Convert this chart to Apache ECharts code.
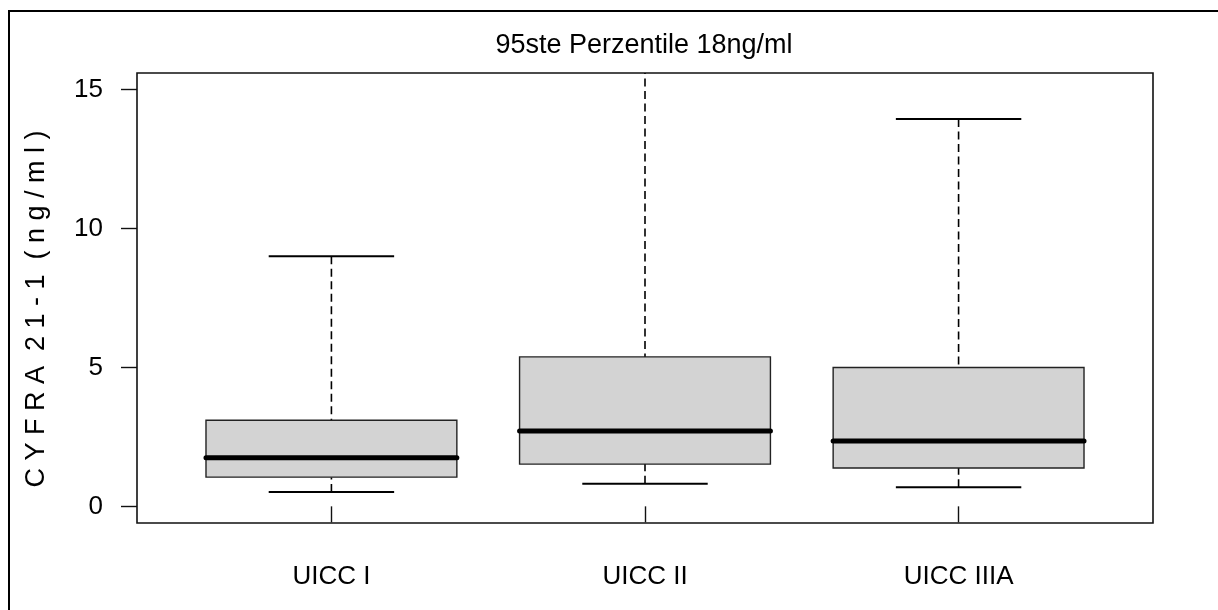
<!DOCTYPE html>
<html>
<head>
<meta charset="utf-8">
<title>CYFRA 21-1 nach UICC-Stadium</title>
<script src="https://cdn.jsdelivr.net/npm/echarts@6/dist/echarts.min.js"></script>
<style>
  html, body { margin: 0; padding: 0; background: #fff; }
  #chart { width: 1218px; height: 610px; }
</style>
</head>
<body>
<div id="chart"></div>
<script>
// Stadien (Kategorien) und Boxplot-Kennwerte in ng/ml
const categories = ['UICC I', 'UICC II', 'UICC IIIA'];
const whiskerLow = [0.52, 0.81, 0.69];
const quartile1  = [1.05, 1.52, 1.38];
const medians    = [1.75, 2.71, 2.35];
const quartile3  = [3.10, 5.38, 5.00];
const whiskerHigh = [9.00, 17.2, 13.94];
const yTicks = [0, 5, 10, 15];
const titleText = '95ste Perzentile 18ng/ml';
const yAxisTitle = 'C Y F R A  2 1 - 1  ( n g / m l )';

const FONT = "'Liberation Sans', Arial, Helvetica, sans-serif";
const BOX_HALF = 0.4;     // halbe Boxbreite in Achseneinheiten
const CAP_HALF = 0.2;     // halbe Breite der Whisker-Enden

const positions = categories.map((_, i) => i + 1);
const boxData = categories.map((_, i) => [
  positions[i], whiskerLow[i], quartile1[i], medians[i], quartile3[i], whiskerHigh[i]
]);

function renderBox(params, api) {
  const x = api.value(0);
  const lo = api.coord([x, api.value(1)]);
  const q1 = api.coord([x, api.value(2)]);
  const med = api.coord([x, api.value(3)]);
  const q3 = api.coord([x, api.value(4)]);
  const hi = api.coord([x, api.value(5)]);
  const left = api.coord([x - BOX_HALF, 0])[0];
  const right = api.coord([x + BOX_HALF, 0])[0];
  const capL = api.coord([x - CAP_HALF, 0])[0];
  const capR = api.coord([x + CAP_HALF, 0])[0];
  const cx = lo[0];
  const dashed = { stroke: '#000', lineWidth: 1.6, lineDash: [8, 4.5], fill: null };
  const solid = { stroke: '#000', lineWidth: 2, fill: null };
  return {
    type: 'group',
    children: [
      // Whisker (gestrichelt), vom Ende zur Box
      { type: 'line', shape: { x1: cx, y1: hi[1], x2: cx, y2: q3[1] }, style: dashed },
      { type: 'line', shape: { x1: cx, y1: lo[1], x2: cx, y2: q1[1] }, style: dashed },
      // Whisker-Enden
      { type: 'line', shape: { x1: capL, y1: hi[1], x2: capR, y2: hi[1] }, style: solid },
      { type: 'line', shape: { x1: capL, y1: lo[1], x2: capR, y2: lo[1] }, style: solid },
      // Box
      { type: 'rect', shape: { x: left, y: q3[1], width: right - left, height: q1[1] - q3[1] },
        style: { fill: '#d3d3d3', stroke: '#222', lineWidth: 1.4 } },
      // Median
      { type: 'line', shape: { x1: left, y1: med[1], x2: right, y2: med[1] },
        style: { stroke: '#000', lineWidth: 5, lineCap: 'round' } }
    ]
  };
}

const chart = echarts.init(document.getElementById('chart'), null, { renderer: 'canvas' });
chart.setOption({
  animation: false,
  backgroundColor: '#fff',
  grid: {
    left: 137, right: 65, top: 73, bottom: 87,
    show: true, borderColor: '#111', borderWidth: 1.6, backgroundColor: 'transparent'
  },
  xAxis: {
    type: 'value',
    min: 0.38, max: 3.62,
    splitLine: { show: false },
    axisLine: { show: false },
    axisTick: {
      show: true, length: 16, customValues: positions,
      lineStyle: { color: '#111', width: 1.4 }
    },
    axisLabel: {
      customValues: positions,
      margin: 41,
      color: '#000', fontFamily: FONT, fontSize: 26,
      formatter: v => categories[Math.round(v) - 1] || ''
    }
  },
  yAxis: {
    type: 'value',
    min: -0.6, max: 15.6,
    splitLine: { show: false },
    axisLine: { show: false },
    axisTick: {
      show: true, length: 16, customValues: yTicks,
      lineStyle: { color: '#111', width: 1.4 }
    },
    axisLabel: {
      customValues: yTicks,
      margin: 34,
      color: '#000', fontFamily: FONT, fontSize: 26
    }
  },
  series: [{
    type: 'custom',
    clip: true,
    renderItem: renderBox,
    encode: { x: 0, y: [1, 2, 3, 4, 5] },
    data: boxData
  }],
  graphic: [
    // Rahmen links und oben
    { type: 'line', shape: { x1: 9, y1: 11, x2: 9, y2: 610 }, style: { stroke: '#000', lineWidth: 2 }, z: 100 },
    { type: 'line', shape: { x1: 8, y1: 11, x2: 1218, y2: 11 }, style: { stroke: '#000', lineWidth: 2 }, z: 100 },
    // Titel
    { type: 'text', x: 644, y: 46,
      style: { text: titleText, fontFamily: FONT, fontSize: 27, fill: '#000',
               textAlign: 'center', textVerticalAlign: 'middle' } },
    // Achsentitel y
    { type: 'text', x: 37, y: 309, rotation: Math.PI / 2,
      style: { text: yAxisTitle, fontFamily: FONT, fontSize: 27, fill: '#000',
               textAlign: 'center', textVerticalAlign: 'middle' } }
  ]
});
</script>
</body>
</html>
